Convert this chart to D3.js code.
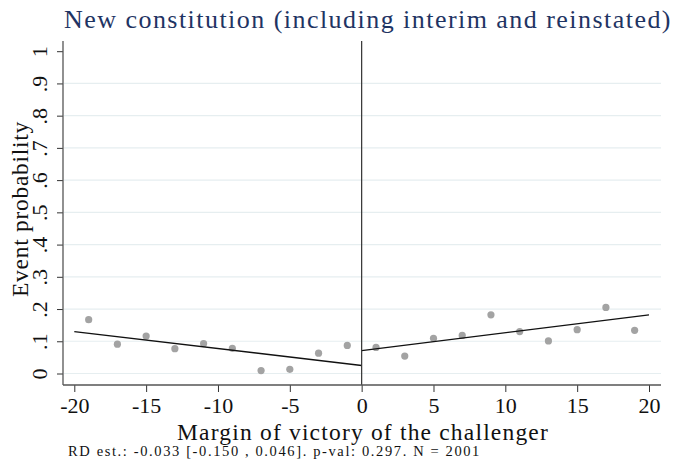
<!DOCTYPE html>
<html>
<head>
<meta charset="utf-8">
<script src="https://cdn.jsdelivr.net/npm/d3@7"></script>
<style>
  html, body { margin: 0; padding: 0; background: #fff; }
  svg { display: block; }
  text { font-family: "Liberation Serif", "DejaVu Serif", serif; }
</style>
</head>
<body>
<svg id="chart" width="678" height="474"></svg>
<script>
// Binned means of the event indicator, by margin of victory (bins of width 2)
const binLeft = [-19, -17, -15, -13, -11, -9, -7, -5, -3, -1];
const meanLeft = [0.167, 0.091, 0.116, 0.077, 0.093, 0.078, 0.009, 0.013, 0.063, 0.087];
const binRight = [1, 3, 5, 7, 9, 11, 13, 15, 17, 19];
const meanRight = [0.081, 0.054, 0.109, 0.118, 0.182, 0.130, 0.101, 0.136, 0.205, 0.134];

// Linear fits on each side of the cutoff: [x, fitted value] at the ends
const fitLeft = [[-20, 0.130], [0, 0.025]];
const fitRight = [[0, 0.071], [20, 0.182]];

const xTicks = [-20, -15, -10, -5, 0, 5, 10, 15, 20];
const yTicks = [0, 0.1, 0.2, 0.3, 0.4, 0.5, 0.6, 0.7, 0.8, 0.9, 1];
const yTickLabels = ["0", ".1", ".2", ".3", ".4", ".5", ".6", ".7", ".8", ".9", "1"];
const gridValues = [0, 0.1, 0.2, 0.3, 0.4, 0.5, 0.6, 0.7, 0.8, 0.9];

const titleText = "New constitution (including interim and reinstated)";
const xTitle = "Margin of victory of the challenger";
const yTitle = "Event probability";
const noteText = "RD est.: -0.033 [-0.150 , 0.046]. p-val: 0.297. N = 2001";

const svg = d3.select("#chart");

// plot region
const frame = { left: 63, right: 661, top: 41, bottom: 385 };
const x = d3.scaleLinear().domain([-20, 20]).range([74.3, 649]);
const y = d3.scaleLinear().domain([0, 1]).range([373.5, 51.2]);

// horizontal gridlines
svg.append("g")
  .selectAll("line")
  .data(gridValues)
  .join("line")
  .attr("x1", frame.left + 1).attr("x2", frame.right)
  .attr("y1", d => y(d)).attr("y2", d => y(d))
  .attr("stroke", "#e6eef0").attr("stroke-width", 1.2);

// scatter of bin means
const pts = binLeft.map((b, i) => [b, meanLeft[i]])
  .concat(binRight.map((b, i) => [b, meanRight[i]]));
svg.append("g")
  .selectAll("circle")
  .data(pts)
  .join("circle")
  .attr("cx", d => x(d[0])).attr("cy", d => y(d[1]))
  .attr("r", 3.6)
  .attr("fill", "#a3a3a3");

// fitted lines
const line = d3.line().x(d => x(d[0])).y(d => y(d[1]));
[fitLeft, fitRight].forEach(seg => {
  svg.append("path")
    .attr("d", line(seg))
    .attr("fill", "none")
    .attr("stroke", "#111")
    .attr("stroke-width", 1.4);
});

// cutoff line
svg.append("line")
  .attr("x1", x(0)).attr("x2", x(0))
  .attr("y1", frame.top).attr("y2", frame.bottom)
  .attr("stroke", "#333").attr("stroke-width", 1.2);

// x axis
const xAxis = svg.append("g")
  .attr("transform", `translate(0,${frame.bottom})`)
  .call(d3.axisBottom(x).tickValues(xTicks).tickSize(7).tickSizeOuter(0).tickPadding(5)
    .tickFormat(d3.format("d")));
xAxis.select(".domain").remove();
xAxis.selectAll(".tick line").attr("stroke", "#333").attr("stroke-width", 1);
xAxis.selectAll(".tick text")
  .attr("font-family", '"Liberation Serif", serif')
  .attr("font-size", 22).attr("fill", "#111")
  .text(d => d < 0 ? "-" + Math.abs(d) : String(d));
svg.append("line")
  .attr("x1", frame.left).attr("x2", frame.right)
  .attr("y1", frame.bottom).attr("y2", frame.bottom)
  .attr("stroke", "#555").attr("stroke-width", 1.3);

// y axis
const yAxis = svg.append("g")
  .attr("transform", `translate(${frame.left},0)`)
  .call(d3.axisLeft(y).tickValues(yTicks).tickSize(6).tickSizeOuter(0)
    .tickFormat((d, i) => yTickLabels[i]));
yAxis.select(".domain").remove();
yAxis.selectAll(".tick line").attr("stroke", "#333").attr("stroke-width", 1);
yAxis.selectAll(".tick text")
  .attr("font-family", '"Liberation Serif", serif')
  .attr("font-size", 22).attr("fill", "#111")
  .attr("text-anchor", "middle")
  .attr("x", null).attr("dy", null)
  .attr("transform", "translate(-16,0) rotate(-90)");
svg.append("line")
  .attr("x1", frame.left).attr("x2", frame.left)
  .attr("y1", frame.top).attr("y2", frame.bottom)
  .attr("stroke", "#555").attr("stroke-width", 1.3);

// keep the font size, widen the letter spacing so the text spans the given width
function spreadTo(sel, width) {
  const s = sel.text();
  const w = sel.node().getComputedTextLength();
  sel.attr("letter-spacing", (width - w) / s.length);
  return sel;
}

// title
const title = svg.append("text")
  .attr("x", 368).attr("y", 28)
  .attr("text-anchor", "middle")
  .attr("font-size", 26)
  .attr("fill", "#1f3463")
  .text(titleText);
spreadTo(title, 608);

// axis titles
const xt = svg.append("text")
  .attr("x", 363).attr("y", 440)
  .attr("text-anchor", "middle")
  .attr("font-size", 23.5)
  .attr("fill", "#111")
  .text(xTitle);
spreadTo(xt, 372);

const yt = svg.append("text")
  .attr("transform", "translate(28,209) rotate(-90)")
  .attr("text-anchor", "middle")
  .attr("font-size", 23.5)
  .attr("fill", "#111")
  .text(yTitle);
spreadTo(yt, 176);

// note
const note = svg.append("text")
  .attr("x", 68).attr("y", 456)
  .attr("font-size", 14.5)
  .attr("fill", "#111")
  .text(noteText);
spreadTo(note, 413);
</script>
</body>
</html>
